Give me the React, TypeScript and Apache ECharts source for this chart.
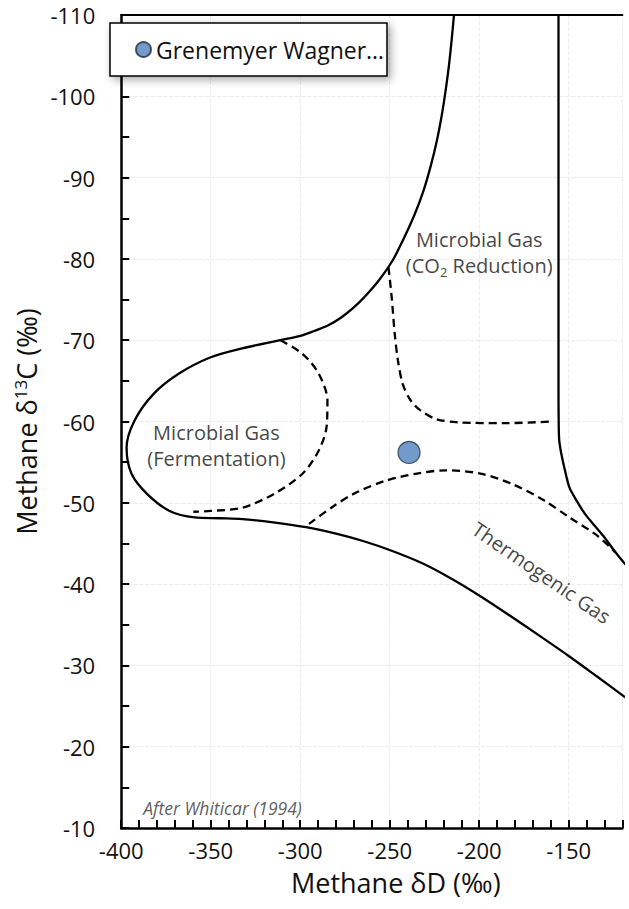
import React, { useEffect, useRef } from 'react';
import * as echarts from 'echarts';

// ---------- data (Methane δD, Methane δ13C) ----------
const SERIES_NAME = 'Grenemyer Wagner…';
const samplePoints: [number, number][] = [[-239.2, -56.2]];

// solid boundary: CO2-reduction upper edge -> fermentation loop -> thermogenic lower edge
const boundaryMain: [number, number][] = [
  [-214.1, -110], [-215.4, -106.9], [-216.9, -103.8], [-218.7, -100.8], [-220.9, -97.7],
  [-223.6, -94.6], [-227.0, -91.5], [-231.1, -88.4], [-236.2, -85.4], [-242.6, -82.3],
  [-248.4, -79.8], [-255.9, -77.4], [-263.3, -75.5], [-270.2, -74.0], [-277.1, -72.8],
  [-284.6, -71.8], [-292.6, -71.1], [-300.5, -70.5], [-311.2, -70.0], [-332.4, -69.0],
  [-350.0, -67.9], [-367.7, -65.9], [-381.9, -63.4], [-392.6, -60.1], [-397.0, -56.8],
  [-394.3, -53.6], [-385.6, -51.1], [-373.0, -49.0], [-359.0, -48.2], [-345.0, -48.1],
  [-332.4, -48.0], [-315.0, -47.6], [-296.8, -47.0], [-280.0, -46.2], [-264.9, -45.3],
  [-248.9, -44.1], [-231.2, -42.5], [-215.0, -40.6], [-200.0, -38.6], [-183.4, -36.2],
  [-166.0, -33.6], [-149.6, -31.1], [-134.0, -28.6], [-118.6, -26.1], [-112.0, -25.0],
];

// solid boundary: right (thermogenic / CO2 reduction divide)
const boundaryRight: [number, number][] = [
  [-155.7, -110], [-155.7, -90], [-155.7, -70], [-155.7, -64], [-155.6, -60.1],
  [-155.3, -57.7], [-154.1, -56.0], [-152.1, -54.0], [-149.6, -51.9], [-145.7, -50.3],
  [-140.8, -48.6], [-135.6, -47.2], [-130.2, -45.8], [-124.5, -44.1], [-118.6, -42.5],
  [-112.0, -41.0],
];

// dashed: CO2 reduction field
const dashedCO2: [number, number][] = [
  [-250.7, -79.0], [-248.9, -75.3], [-247.2, -70.8], [-245.4, -67.5], [-242.7, -64.6],
  [-238.3, -62.6], [-233.0, -61.4], [-224.1, -60.3], [-211.7, -59.9], [-185.1, -59.8],
  [-159.4, -60.0],
];

// dashed: fermentation field
const dashedFerm: [number, number][] = [
  [-311.0, -70.0], [-298.6, -68.3], [-289.7, -65.9], [-284.8, -62.6], [-285.3, -59.3],
  [-289.7, -56.4], [-298.6, -53.6], [-314.6, -51.1], [-332.3, -49.4], [-350.0, -49.0],
  [-359.7, -48.9],
];

// dashed: thermogenic field upper edge
const dashedThermo: [number, number][] = [
  [-295.1, -47.4], [-282.6, -49.4], [-270.2, -51.1], [-252.5, -52.7], [-234.7, -53.6],
  [-218.8, -54.0], [-199.3, -53.6], [-181.5, -52.3], [-163.8, -50.3], [-149.6, -48.2],
  [-135.5, -46.2], [-126.6, -44.5], [-124.0, -43.9],
];

const xMin = -400;
const xMax = -120;
const yMin = -110;
const yMax = -10;

const FONT = '"Open Sans", "Noto Sans", sans-serif';
const TXT = '#111';

const annotations = [
  { value: [-346.8, -57.1], text: '{a|Microbial Gas}\n{a|(Fermentation)}', rotate: 0, pos: 'inside' },
  { value: [-200.0, -80.8], text: '{a|Microbial Gas}\n{a|(CO}{sub|2}{a| Reduction)}', rotate: 0, pos: 'inside' },
  { value: [-165.2, -41.4], text: '{a|Thermogenic Gas}', rotate: -34.4, pos: 'inside' },
  { value: [-387.7, -12.5], text: '{it|After Whiticar (1994)}', rotate: 0, pos: 'right' },
];

function lineSeries(data: [number, number][], dashed: boolean) {
  return {
    type: 'line',
    data,
    symbol: 'none',
    smooth: 0.3,
    silent: true,
    clip: true,
    z: 3,
    lineStyle: { color: '#000', width: 2.3, type: dashed ? [8, 5] : 'solid' },
  };
}

const gridLine = { show: true, lineStyle: { color: '#ebebeb', type: 'dashed', width: 1 } };

const option: any = {
  animation: false,
  backgroundColor: '#fff',
  textStyle: { fontFamily: FONT },
  grid: { left: 96, right: 6.6, top: 15, bottom: 81, containLabel: false },
  legend: {
    left: 110,
    top: 23,
    data: [{ name: SERIES_NAME, icon: 'circle' }],
    itemWidth: 15,
    itemHeight: 15,
    padding: [15, 3, 15, 25],
    backgroundColor: '#fff',
    borderColor: '#000',
    borderWidth: 1.5,
    borderRadius: 0,
    shadowBlur: 8,
    shadowColor: 'rgba(0,0,0,0.35)',
    shadowOffsetX: 3,
    shadowOffsetY: 3,
    selectedMode: false,
    textStyle: { fontSize: 23, color: TXT, fontFamily: FONT },
  },
  xAxis: [
    {
      type: 'value', min: xMin, max: xMax, interval: 50, position: 'bottom',
      axisLine: { show: true, onZero: false, lineStyle: { color: '#000', width: 2.5 } },
      axisTick: { show: false },
      axisLabel: { show: true, showMaxLabel: false, fontSize: 22, color: TXT, margin: 11, fontFamily: FONT },
      splitLine: gridLine,
      name: 'Methane δD (‰)',
      nameLocation: 'middle',
      nameGap: 41,
      nameTextStyle: { fontSize: 27, color: TXT, fontFamily: FONT, padding: [0, 0, 0, 48] },
    },
    {
      type: 'value', min: xMin, max: xMax, interval: 10, position: 'bottom',
      axisLine: { show: false, onZero: false },
      axisTick: { show: true, inside: true, length: 8, lineStyle: { color: '#000', width: 2 } },
      axisLabel: { show: false },
      splitLine: { show: false },
    },
    {
      type: 'value', min: xMin, max: xMax, position: 'top',
      axisLine: { show: true, onZero: false, lineStyle: { color: '#000', width: 2 } },
      axisTick: { show: false },
      axisLabel: { show: false },
      splitLine: { show: false },
    },
  ],
  yAxis: {
    type: 'value', inverse: true, min: yMin, max: yMax, interval: 10,
    axisLine: { show: true, onZero: false, lineStyle: { color: '#000', width: 2.5 } },
    axisTick: { show: true, inside: true, length: 8, lineStyle: { color: '#000', width: 2 } },
    minorTick: { show: true, splitNumber: 2, length: 8, lineStyle: { color: '#000', width: 2 } },
    axisLabel: { fontSize: 22, color: TXT, margin: 26, fontFamily: FONT },
    splitLine: gridLine,
    name: '{a|Methane δ}{sup|13}{a|C (‰)}',
    nameLocation: 'middle',
    nameGap: 50,
    nameTextStyle: {
      color: TXT,
      fontFamily: FONT,
      rich: {
        a: { fontSize: 27, lineHeight: 36, color: TXT, fontFamily: FONT },
        sup: { fontSize: 17, lineHeight: 17, verticalAlign: 'top', color: TXT, fontFamily: FONT, padding: [4, 0, 0, 0] },
      },
    },
  },
  series: [
    lineSeries(boundaryMain, false),
    lineSeries(boundaryRight, false),
    lineSeries(dashedCO2, true),
    lineSeries(dashedFerm, true),
    lineSeries(dashedThermo, true),
    {
      type: 'scatter',
      name: 'annotations',
      silent: true,
      symbolSize: 0,
      z: 4,
      data: annotations.map((a) => ({
        value: a.value,
        label: {
          show: true,
          formatter: a.text,
          rotate: a.rotate,
          position: a.pos,
          distance: 0,
          align: a.pos === 'right' ? 'left' : 'center',
          verticalAlign: 'middle',
        },
      })),
      label: {
        show: true,
        color: TXT,
        fontFamily: FONT,
        rich: {
          a: { fontSize: 20, lineHeight: 26, color: TXT, fontFamily: FONT },
          sub: { fontSize: 13, lineHeight: 13, verticalAlign: 'bottom', color: TXT, fontFamily: FONT },
          it: { fontSize: 17.5, fontStyle: 'italic', color: '#333', fontFamily: FONT },
        },
      },
    },
    {
      type: 'scatter',
      name: SERIES_NAME,
      data: samplePoints,
      symbol: 'circle',
      symbolSize: 22,
      z: 5,
      itemStyle: { color: '#4f81bd', borderColor: '#1f2f45', borderWidth: 1.2 },
    },
  ],
};

export default function App() {
  const ref = useRef<HTMLDivElement>(null);
  useEffect(() => {
    if (!ref.current) return;
    const chart = echarts.init(ref.current, null, { renderer: 'svg' });
    chart.setOption(option);
    return () => chart.dispose();
  }, []);
  return (
    <div
      ref={ref}
      style={{ position: 'fixed', left: 0, top: 0, width: 629, height: 909, background: '#fff' }}
    />
  );
}
